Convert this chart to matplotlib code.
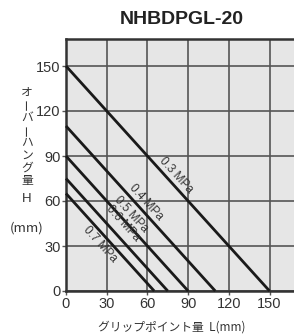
import matplotlib
matplotlib.use("Agg")
import matplotlib.pyplot as plt
import numpy as np

# ----------------------------------------------------------------
# data
# ----------------------------------------------------------------
pressures = ["0.3 MPa", "0.4 MPa", "0.5 MPa", "0.6 MPa", "0.7 MPa"]
max_overhang = [150, 110, 90, 75, 65]      # H at L = 0
max_grip = [150, 110, 90, 75, 65]          # L at H = 0
label_x = [81, 59, 48, 42, 25]
label_y = [77, 59, 51, 45, 31]
ticks = [0, 30, 60, 90, 120, 150]

plt.rcParams["font.family"] = ["Liberation Sans", "DejaVu Sans"]
jp = ["Noto Sans CJK JP", "DejaVu Sans"]

fig = plt.figure(figsize=(2.94, 3.35), dpi=100)
ax = fig.add_axes([66 / 294, 1 - 291 / 335, 228 / 294, 252 / 335])
ax.set_facecolor("#e6e6e6")
ax.set_xlim(0, 168)
ax.set_ylim(0, 168)

ax.set_xticks(ticks)
ax.set_yticks(ticks)
ax.grid(True, color="#555555", lw=1.2)
ax.set_axisbelow(True)
ax.tick_params(labelsize=10.5, length=3, width=1, color="#555555",
               labelcolor="#333333", pad=1)
for s in ["top", "bottom", "left"]:
    ax.spines[s].set_linewidth(1.8)
    ax.spines[s].set_color("#333333")
ax.spines["right"].set_visible(False)

for name, h0, l0, tx, ty in zip(pressures, max_overhang, max_grip, label_x, label_y):
    ax.plot([0, l0], [h0, 0], color="#1a1a1a", lw=2, solid_capstyle="butt",
            clip_on=False, zorder=3)
    p1 = ax.transData.transform((0, h0))
    p2 = ax.transData.transform((l0, 0))
    ang = np.degrees(np.arctan2(p2[1] - p1[1], p2[0] - p1[0]))
    ax.text(tx, ty, name, rotation=ang, rotation_mode="anchor",
            ha="center", va="center", fontsize=8.5, color="#333333", zorder=4)

fig.text(182 / 294, 1 - 20 / 335, "NHBDPGL-20", ha="center", va="center",
         fontsize=14, fontweight="bold", color="#222222")

# vertical y label
ylab = ["オ", "ー", "バ", "ー", "ハ", "ン", "グ", "量"]
for i, ch in enumerate(ylab):
    ypix = 92 + i * 12.6
    rot = 90 if ch == "ー" else 0
    fig.text(27 / 294, 1 - ypix / 335, ch, ha="center", va="center",
             fontsize=8.5, family=jp, rotation=rot, color="#333333")
fig.text(27 / 294, 1 - 199 / 335, "H", ha="center", va="center",
         fontsize=9.5, color="#333333")
fig.text(27 / 294, 1 - 228 / 335, "(mm)", ha="center", va="center",
         fontsize=9.5, family=jp, color="#333333")

fig.text(172 / 294, 1 - 327 / 335, "グリップポイント量  L(mm)", ha="center",
         va="center", fontsize=8.5, family=jp, color="#333333")

fig.savefig("out.png", dpi=100)
